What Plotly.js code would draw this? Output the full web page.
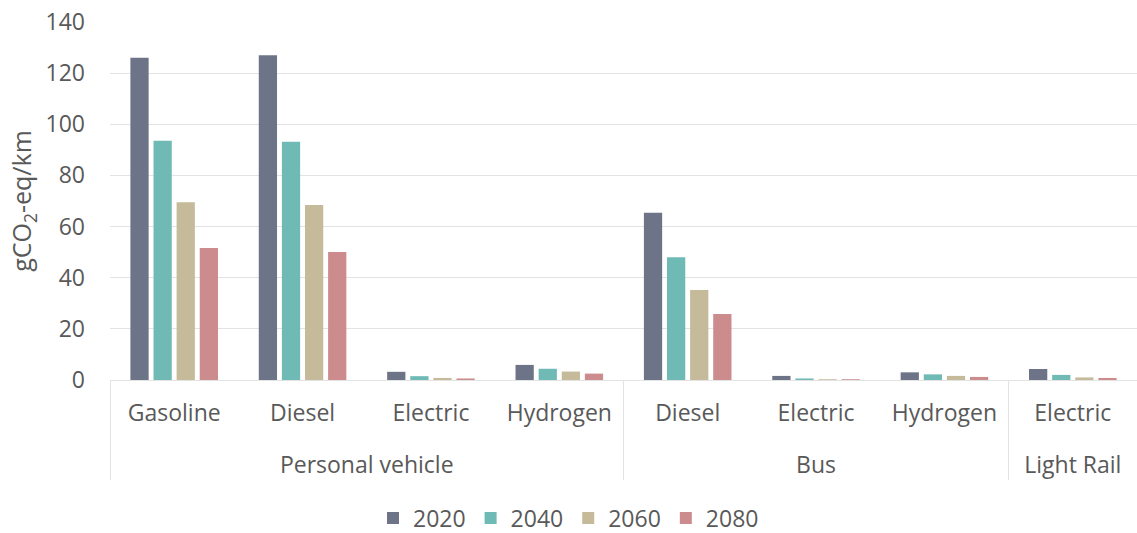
<!DOCTYPE html>
<html>
<head>
<meta charset="utf-8">
<script src="https://cdn.plot.ly/plotly-3.0.1.min.js"></script>
<style>html,body{margin:0;padding:0;background:#fff;}#chart{width:1137px;height:533px;}</style>
</head>
<body>
<div id="chart"></div>
<script>
const groups = ['Personal vehicle','Personal vehicle','Personal vehicle','Personal vehicle','Bus','Bus','Bus','Light Rail'];
const types = ['Gasoline','Diesel','Electric','Hydrogen','Diesel','Electric','Hydrogen','Electric'];
const years = ['2020','2040','2060','2080'];
const y2020 = [126.0, 127.0, 3.2, 5.9, 65.4, 1.6, 3.0, 4.3];
const y2040 = [93.6, 93.2, 1.5, 4.4, 48.0, 0.6, 2.2, 2.0];
const y2060 = [69.5, 68.4, 0.8, 3.3, 35.2, 0.3, 1.6, 1.0];
const y2080 = [51.6, 50.1, 0.6, 2.5, 25.8, 0.3, 1.2, 0.8];
const colors = ['#6d7487', '#6fbab5', '#c5bb9b', '#cc8b8d'];
const series = [y2020, y2040, y2060, y2080];

const font = 'Open Sans, sans-serif';
const txt = '#595959';

// outer-level labels get a leading line break so they sit lower, as in the reference
const groupLabels = groups.map(g => '<br>' + g);

const traces = series.map((vals, i) => ({
  type: 'bar',
  name: years[i],
  x: [groupLabels, types],
  y: vals,
  marker: {color: colors[i]},
  hoverinfo: 'y+name'
}));

const layout = {
  width: 1137, height: 533,
  margin: {l: 110, r: 0, t: 22, b: 153},
  paper_bgcolor: '#fff', plot_bgcolor: '#fff',
  font: {family: font, size: 23, color: txt},
  barmode: 'group',
  bargap: 0.28,
  bargroupgap: 0.21,
  xaxis: {
    type: 'multicategory',
    showline: true, linecolor: '#e3e3e3', linewidth: 1,
    showdividers: true, dividercolor: '#e3e3e3', dividerwidth: 1,
    tickfont: {family: font, size: 23, color: txt},
    ticks: '',
    ticklabelstandoff: 12,
    showgrid: false
  },
  yaxis: {
    range: [0, 140], dtick: 20,
    showgrid: true, gridcolor: '#e3e3e3', gridwidth: 1,
    zeroline: false,
    showline: false,
    ticks: '',
    ticklabelstandoff: 24,
    tickfont: {family: font, size: 23, color: txt},
    title: {text: 'gCO<sub>2</sub>-eq/km', font: {family: font, size: 25, color: txt}, standoff: 6}
  },
  legend: {
    orientation: 'h',
    xref: 'container', yref: 'container',
    x: 0.5, xanchor: 'center',
    y: 0.028, yanchor: 'middle',
    font: {family: font, size: 23, color: txt},
    itemwidth: 30,
    traceorder: 'normal'
  },
  showlegend: true
};

Plotly.newPlot('chart', traces, layout, {displayModeBar: false, staticPlot: true});
</script>
</body>
</html>
